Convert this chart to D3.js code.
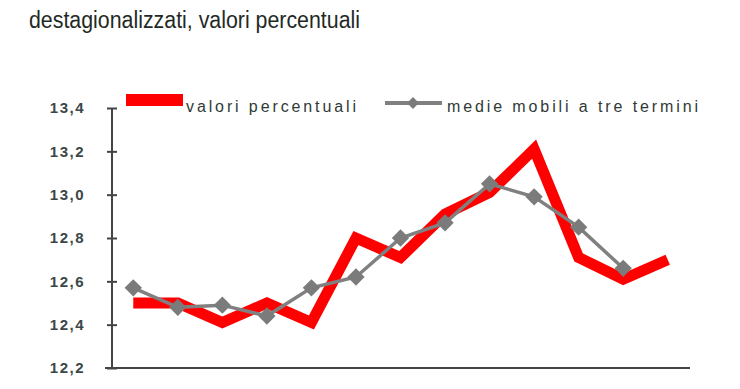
<!DOCTYPE html>
<html>
<head>
<meta charset="utf-8">
<script src="https://cdn.jsdelivr.net/npm/d3@7"></script>
<style>
  body { margin: 0; background: #fff; }
  svg { display: block; }
  .axis path, .axis line { stroke: #444; stroke-width: 2; }
  .axis text { font-family: "Liberation Sans Narrow", "Arial Narrow", "Liberation Sans", sans-serif; font-size: 15px; font-weight: bold; fill: #3b4646; letter-spacing: 1.5px; }
  .legend { font-family: "Liberation Sans Narrow", "Arial Narrow", "Liberation Sans", sans-serif; font-size: 16px; fill: #2f3a36; }
</style>
</head>
<body>
<div id="chart"></div>
<script>
// chart data
var titleText = "destagionalizzati, valori percentuali";
var periods = ["p1", "p2", "p3", "p4", "p5", "p6", "p7", "p8", "p9", "p10", "p11", "p12", "p13"];
var valori = [12.50, 12.50, 12.41, 12.50, 12.41, 12.80, 12.71, 12.91, 13.01, 13.21, 12.71, 12.61, 12.70];
var medie = [12.57, 12.48, 12.49, 12.44, 12.57, 12.62, 12.80, 12.87, 13.05, 12.99, 12.85, 12.66];
var yTicks = [12.2, 12.4, 12.6, 12.8, 13.0, 13.2, 13.4];
var legendNames = ["valori percentuali", "medie mobili a tre termini"];

var W = 740, H = 389;

var svg = d3.select("#chart").append("svg")
    .attr("width", W)
    .attr("height", H);

// title (second line of the original caption)
svg.append("text")
    .attr("x", 29)
    .attr("y", 28)
    .attr("textLength", 331)
    .attr("lengthAdjust", "spacingAndGlyphs")
    .style("font-family", "'Liberation Sans Narrow', 'Arial Narrow', 'Liberation Sans', sans-serif")
    .style("font-size", "23px")
    .style("fill", "#1f2a26")
    .text(titleText);

var x = d3.scalePoint()
    .domain(periods)
    .range([111, 690])
    .padding(0.5);

var y = d3.scaleLinear()
    .domain([12.2, 13.4])
    .range([368, 108]);

// y axis with ticks crossing the line
var yAxis = svg.append("g")
    .attr("class", "axis")
    .attr("transform", "translate(112,0)")
    .call(d3.axisLeft(y)
      .tickValues(yTicks)
      .tickSize(5)
      .tickSizeOuter(0)
      .tickPadding(22)
      .tickFormat(function(d) { return d3.format(".1f")(d).replace(".", ","); }));
yAxis.selectAll(".tick line").attr("x1", 5).attr("x2", -5);
yAxis.select(".domain").attr("d", "M0," + y(13.4) + "V" + y(12.2));

// x axis line only, labels fall below the picture
svg.append("line")
    .attr("x1", 105).attr("x2", 690)
    .attr("y1", y(12.2)).attr("y2", y(12.2))
    .attr("stroke", "#444")
    .attr("stroke-width", 2);

var line = d3.line()
    .x(function(d, i) { return x(periods[i]); })
    .y(function(d) { return y(d); });

svg.append("path")
    .datum(valori)
    .attr("fill", "none")
    .attr("stroke", "#ff0000")
    .attr("stroke-width", 11)
    .attr("stroke-linejoin", "miter")
    .attr("stroke-miterlimit", 10)
    .attr("d", line);

svg.append("path")
    .datum(medie)
    .attr("fill", "none")
    .attr("stroke", "#808080")
    .attr("stroke-width", 3.5)
    .attr("d", line);

var diamond = d3.symbol().type(d3.symbolSquare).size(150);

svg.selectAll(".marker")
    .data(medie)
  .enter().append("path")
    .attr("class", "marker")
    .attr("fill", "#7b7b7b")
    .attr("d", diamond)
    .attr("transform", function(d, i) {
      return "translate(" + x(periods[i]) + "," + y(d) + ") rotate(45)";
    });

// legend
svg.append("rect")
    .attr("x", 126).attr("y", 94)
    .attr("width", 57).attr("height", 12)
    .attr("fill", "#ff0000");

svg.append("text")
    .attr("class", "legend")
    .attr("x", 186).attr("y", 112)
    .attr("textLength", 170)
    .attr("lengthAdjust", "spacing")
    .text(legendNames[0]);

svg.append("line")
    .attr("x1", 385).attr("x2", 442)
    .attr("y1", 103).attr("y2", 103)
    .attr("stroke", "#808080")
    .attr("stroke-width", 4);

svg.append("path")
    .attr("fill", "#7b7b7b")
    .attr("d", d3.symbol().type(d3.symbolSquare).size(70))
    .attr("transform", "translate(413,103) rotate(45)");

svg.append("text")
    .attr("class", "legend")
    .attr("x", 447).attr("y", 112)
    .attr("textLength", 251)
    .attr("lengthAdjust", "spacing")
    .text(legendNames[1]);
</script>
</body>
</html>
